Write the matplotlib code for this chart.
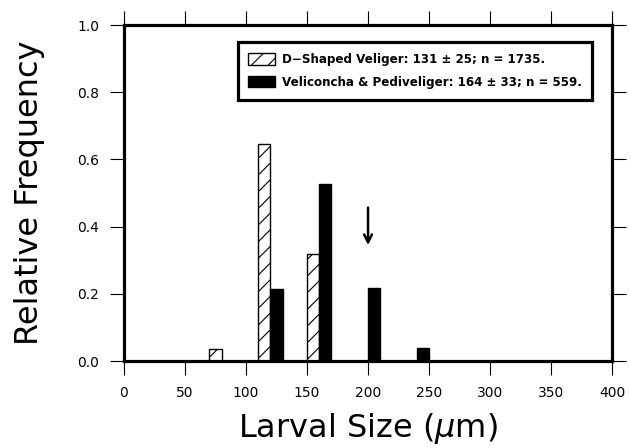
import numpy as np
import matplotlib
matplotlib.use('Agg')
import matplotlib.pyplot as plt

# données
centres = [80, 120, 160, 200, 240]                          # centres des classes (um)
d_shaped = [0.035, 0.645, 0.320, 0.0, 0.0]                  # D-Shaped Veliger
veliconcha = [0.0, 0.214, 0.527, 0.219, 0.038]              # Veliconcha & Pediveliger
lab_d = 'D\u2212Shaped Veliger: 131 \u00b1 25; n = 1735.'
lab_v = 'Veliconcha & Pediveliger: 164 \u00b1 33; n = 559.'
xticks = np.arange(0, 401, 50)
yticks = [0.0, 0.2, 0.4, 0.6, 0.8, 1.0]
fleche_x = 200

plt.rcParams['hatch.linewidth'] = 0.8

fig = plt.figure(figsize=(6.31, 4.48), dpi=100)
ax = fig.add_axes([0.1965, 0.194, 0.7735, 0.750])

c = np.array(centres)
idx_d = [i for i in range(len(c)) if d_shaped[i] > 0]
idx_v = [i for i in range(len(c)) if veliconcha[i] > 0]
# hachuré à gauche du centre, noir à droite
b1 = ax.bar(c[idx_d] - 5, [d_shaped[i] for i in idx_d], width=10,
            color='white', edgecolor='black', linewidth=1.0, hatch='//')
b2 = ax.bar(c[idx_v] + 5, [veliconcha[i] for i in idx_v], width=10,
            color='black', edgecolor='black', linewidth=1.0)

ax.annotate('', xy=(fleche_x, 0.337), xytext=(fleche_x, 0.465),
            arrowprops=dict(arrowstyle='->', lw=1.8, color='black',
                            mutation_scale=14))

ax.set_xlim(0, 400)
ax.set_ylim(0, 1.0)
ax.set_xticks(xticks)
ax.set_yticks(yticks)
ax.set_yticklabels(['%.1f' % v for v in yticks])
ax.tick_params(direction='out', length=10, width=0.8, labelsize=10,
               top=True, right=True, pad=8)
for s in ax.spines.values():
    s.set_linewidth(2.3)

ax.set_xlabel('Larval Size ($\\mu$m)', fontsize=23, labelpad=8)
ax.set_ylabel('Relative Frequency', fontsize=23, labelpad=23)

leg = ax.legend([b1, b2], [lab_d, lab_v], loc='upper right',
                bbox_to_anchor=(0.972, 0.966), fancybox=False,
                edgecolor='black', framealpha=1, prop={'size': 8.6, 'weight': 'bold'},
                handlelength=2.2, handleheight=1.1, borderpad=0.9,
                labelspacing=0.8, handletextpad=0.6)
leg.get_frame().set_linewidth(2.3)

fig.savefig('out.png', dpi=100)
